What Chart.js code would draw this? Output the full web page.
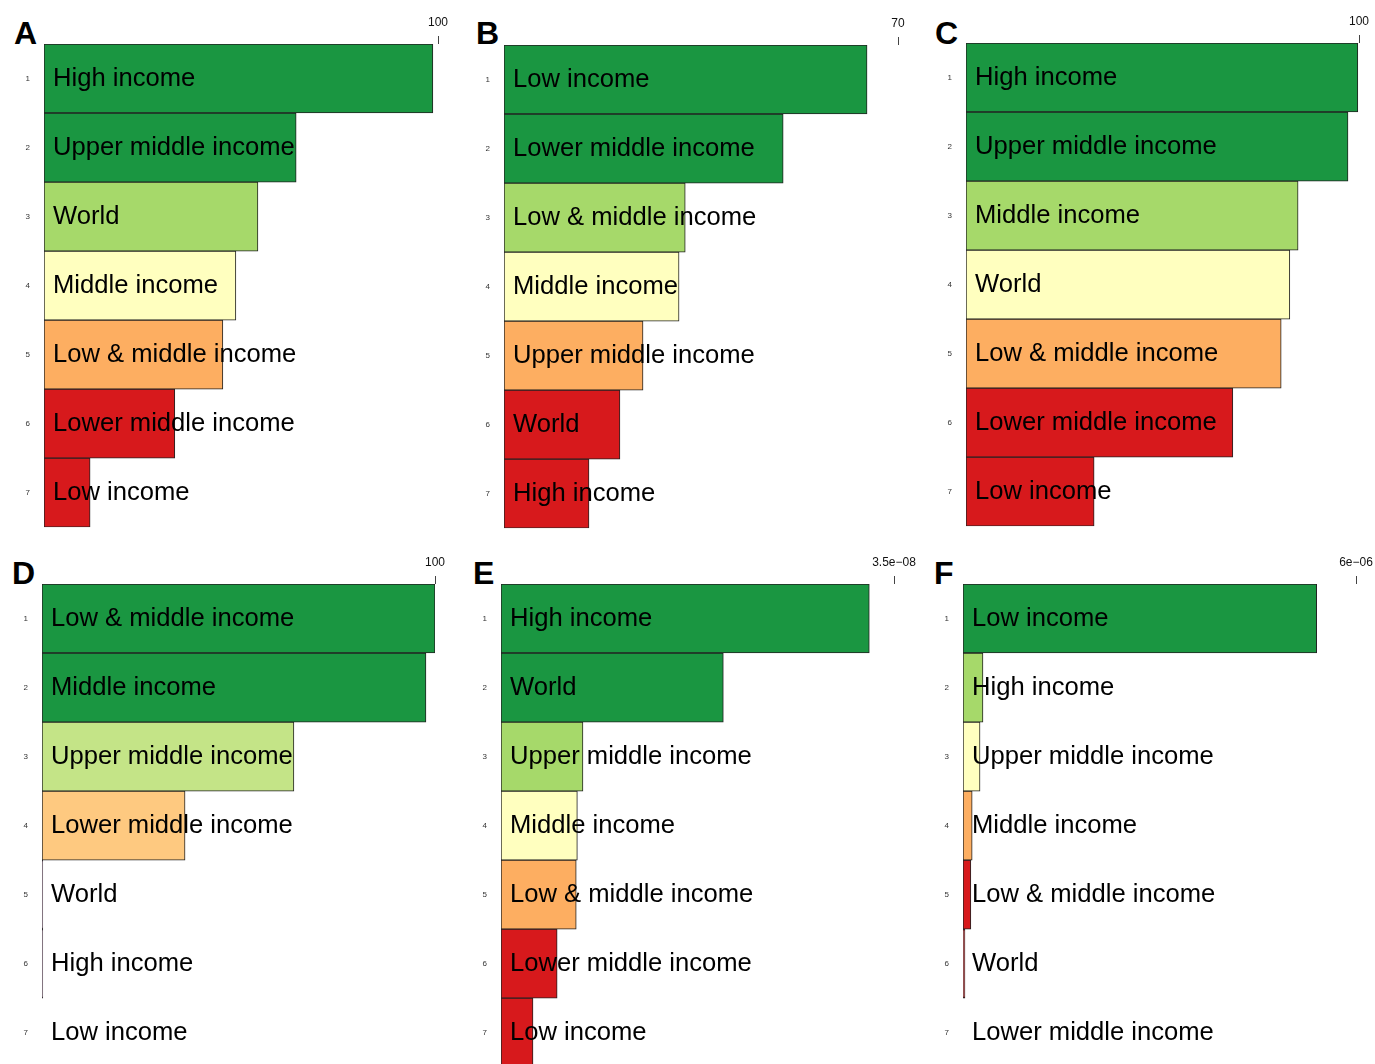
<!DOCTYPE html>
<html>
<head>
<meta charset="utf-8">
<script src="https://cdn.jsdelivr.net/npm/chart.js@4.4.0/dist/chart.umd.min.js"></script>
<style>
  html, body { margin: 0; padding: 0; background: #fff; overflow: hidden; }
  body { width: 1375px; height: 1064px; position: relative; font-family: "Liberation Sans", Arial, sans-serif; }
  .panel { position: absolute; }
  .letter { position: absolute; font-weight: bold; font-size: 32px; line-height: 1; color: #000; }
</style>
</head>
<body>

<div class="letter" style="left:14px; top:17px;">A</div>
<div class="letter" style="left:476px; top:17px;">B</div>
<div class="letter" style="left:935px; top:17px;">C</div>
<div class="letter" style="left:12px; top:557px;">D</div>
<div class="letter" style="left:473px; top:557px;">E</div>
<div class="letter" style="left:934px; top:557px;">F</div>

<script>
// 패널별 데이터 (순위 1~7)
const namesA = ['High income', 'Upper middle income', 'World', 'Middle income', 'Low & middle income', 'Lower middle income', 'Low income'];
const valuesA = [98.7, 64.0, 54.3, 48.7, 45.4, 33.2, 11.7];

const namesB = ['Low income', 'Lower middle income', 'Low & middle income', 'Middle income', 'Upper middle income', 'World', 'High income'];
const valuesB = [64.5, 49.6, 32.2, 31.1, 24.7, 20.6, 15.1];

const namesC = ['High income', 'Upper middle income', 'Middle income', 'World', 'Low & middle income', 'Lower middle income', 'Low income'];
const valuesC = [99.7, 97.2, 84.5, 82.4, 80.2, 67.9, 32.6];

const namesD = ['Low & middle income', 'Middle income', 'Upper middle income', 'Lower middle income', 'World', 'High income', 'Low income'];
const valuesD = [100, 97.7, 64.1, 36.4, 0.2, 0.2, 0];

const namesE = ['High income', 'World', 'Upper middle income', 'Middle income', 'Low & middle income', 'Lower middle income', 'Low income'];
const valuesE = [3.28e-8, 1.98e-8, 7.3e-9, 6.8e-9, 6.7e-9, 5.0e-9, 2.85e-9];

const namesF = ['Low income', 'High income', 'Upper middle income', 'Middle income', 'Low & middle income', 'World', 'Lower middle income'];
const valuesF = [5.40e-6, 3.05e-7, 2.6e-7, 1.4e-7, 1.2e-7, 3e-8, 0];

// 축 상단 눈금 (하나씩만)
const tickMax = [100, 70, 100, 100, 3.5e-8, 6e-6];
const tickLabels = ['100', '70', '100', '100', '3.5e\u221208', '6e\u221206'];

// 색상
const GREEN = '#1a9641', LGREEN = '#a6d96a', YELLOW = '#ffffbf', ORANGE = '#fdae61', RED = '#d7191c';
const colorsA = [GREEN, GREEN, LGREEN, YELLOW, ORANGE, RED, RED];
const colorsD = [GREEN, GREEN, '#c4e487', '#fec980', '#6b5566', '#6b5566', '#6b5566'];
const colorsF = [GREEN, LGREEN, YELLOW, ORANGE, RED, RED, RED];

// 막대 안에 이름 쓰기
const barLabelPlugin = {
    id: 'barLabels',
    afterDatasetsDraw(chart) {
        const ctx = chart.ctx;
        const meta = chart.getDatasetMeta(0);
        const names = chart.data.labels;
        ctx.save();
        ctx.font = '25.6px "Liberation Sans", Arial, sans-serif';
        ctx.fillStyle = '#000';
        ctx.textAlign = 'left';
        ctx.textBaseline = 'middle';
        meta.data.forEach((bar, i) => {
            ctx.fillText(names[i], chart.chartArea.left + 9, bar.y);
        });
        ctx.restore();
    }
};

// 패널 위치: 차트 영역 왼쪽/오른쪽/위
const panels = [
    { names: namesA, values: valuesA, colors: colorsA, left: 44, right: 438, top: 44 },
    { names: namesB, values: valuesB, colors: colorsA, left: 504, right: 898, top: 45 },
    { names: namesC, values: valuesC, colors: colorsA, left: 966, right: 1359, top: 43 },
    { names: namesD, values: valuesD, colors: colorsD, left: 42, right: 435, top: 584 },
    { names: namesE, values: valuesE, colors: colorsA, left: 501, right: 894, top: 584 },
    { names: namesF, values: valuesF, colors: colorsF, left: 963, right: 1356, top: 584 }
];

const AXIS_W = 44, AXIS_H = 44, PAD_R = 34, PLOT_H = 483, EXTRA_H = 19;

panels.forEach((p, k) => {
    const div = document.createElement('div');
    div.className = 'panel';
    const w = AXIS_W + (p.right - p.left) + PAD_R;
    const h = AXIS_H + PLOT_H + EXTRA_H;
    div.style.left = (p.left - AXIS_W) + 'px';
    div.style.top = (p.top - AXIS_H) + 'px';
    div.style.width = w + 'px';
    div.style.height = h + 'px';
    const canvas = document.createElement('canvas');
    div.appendChild(canvas);
    document.body.appendChild(div);

    new Chart(canvas.getContext('2d'), {
        type: 'bar',
        data: {
            labels: p.names,
            datasets: [{
                data: p.values,
                backgroundColor: p.colors,
                borderColor: '#222',
                borderWidth: 1,
                borderSkipped: false,
                categoryPercentage: 1,
                barPercentage: 1
            }]
        },
        options: {
            indexAxis: 'y',
            responsive: true,
            maintainAspectRatio: false,
            animation: false,
            layout: { padding: { left: 0, right: PAD_R, top: 0, bottom: 0 } },
            scales: {
                x: {
                    position: 'top',
                    min: 0,
                    max: tickMax[k],
                    afterBuildTicks: axis => { axis.ticks = [{ value: tickMax[k] }]; },
                    afterFit: axis => { axis.height = AXIS_H; },
                    border: { display: false },
                    grid: { drawOnChartArea: false, drawTicks: true, tickLength: 8, color: '#444', lineWidth: 1 },
                    ticks: {
                        padding: 6,
                        maxRotation: 0,
                        color: '#111',
                        font: { size: 12, family: '"Liberation Sans", Arial, sans-serif' },
                        callback: () => tickLabels[k]
                    }
                },
                y: {
                    afterFit: axis => { axis.width = AXIS_W; },
                    border: { display: false },
                    grid: { display: false, drawTicks: false },
                    ticks: {
                        padding: 14,
                        color: '#333',
                        font: { size: 8, family: '"Liberation Sans", Arial, sans-serif' },
                        callback: (val, i) => String(i + 1)
                    }
                }
            },
            plugins: {
                legend: { display: false },
                tooltip: { enabled: false }
            }
        },
        plugins: [barLabelPlugin]
    });
});
</script>
</body>
</html>
